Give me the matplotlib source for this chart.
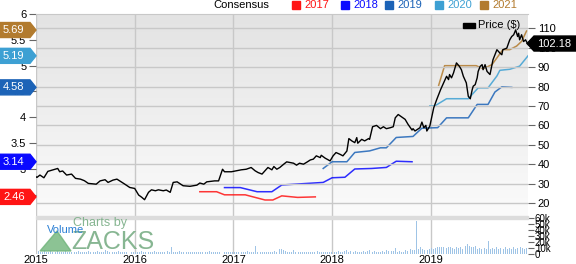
import numpy as np
import matplotlib
matplotlib.use("Agg")
import matplotlib.pyplot as plt
from matplotlib.patches import Polygon, Rectangle

plt.rcParams['font.family'] = ['Liberation Sans', 'DejaVu Sans']

# price ($), time as fractional year
price_t = [2015.00, 2015.01, 2015.04, 2015.08, 2015.12, 2015.16, 2015.22, 2015.24, 2015.27, 2015.31,
           2015.36, 2015.40, 2015.45, 2015.49, 2015.53, 2015.61, 2015.65, 2015.70, 2015.73, 2015.78,
           2015.82, 2015.86, 2015.90, 2015.95, 2016.00, 2016.04, 2016.07, 2016.10, 2016.14, 2016.17,
           2016.21, 2016.24, 2016.29, 2016.32, 2016.36, 2016.39, 2016.43, 2016.49, 2016.56, 2016.63,
           2016.66, 2016.70, 2016.73, 2016.81, 2016.85, 2016.89, 2016.91, 2016.98, 2017.08, 2017.13,
           2017.18, 2017.22, 2017.25, 2017.29, 2017.32, 2017.35, 2017.39, 2017.41, 2017.44, 2017.47,
           2017.51, 2017.54, 2017.61, 2017.64, 2017.67, 2017.71, 2017.74, 2017.78, 2017.81, 2017.84,
           2017.88, 2017.89, 2017.93, 2017.98, 2018.01, 2018.04, 2018.08, 2018.11, 2018.15, 2018.17,
           2018.20, 2018.23, 2018.25, 2018.26, 2018.30, 2018.33, 2018.37, 2018.38, 2018.41, 2018.45,
           2018.49, 2018.52, 2018.55, 2018.59, 2018.62, 2018.64, 2018.67, 2018.70, 2018.74, 2018.77,
           2018.81, 2018.82, 2018.84, 2018.89, 2018.91, 2018.93, 2018.95, 2018.96, 2018.99, 2019.03,
           2019.06, 2019.10, 2019.13, 2019.16, 2019.18, 2019.19, 2019.21, 2019.23, 2019.26, 2019.29,
           2019.31, 2019.33, 2019.36, 2019.38, 2019.40, 2019.42, 2019.43, 2019.45, 2019.47, 2019.48,
           2019.50, 2019.52, 2019.53, 2019.55, 2019.57, 2019.60, 2019.62, 2019.63, 2019.67, 2019.70,
           2019.72, 2019.73, 2019.77, 2019.80, 2019.82, 2019.84, 2019.86, 2019.88, 2019.89, 2019.90,
           2019.92, 2019.94, 2019.96, 2019.98]
price_v = [33.5, 33.2, 34.4, 33.0, 36.3, 36.9, 37.8, 36.1, 36.5, 34.4,
           34.9, 32.7, 32.3, 31.5, 30.1, 29.7, 31.4, 32.0, 30.6, 31.8,
           32.3, 31.0, 29.7, 28.0, 27.5, 24.1, 23.0, 21.7, 25.5, 26.8,
           26.3, 26.8, 26.3, 26.7, 25.5, 30.6, 30.9, 28.9, 28.6, 29.2,
           30.3, 29.7, 30.9, 31.4, 31.4, 37.4, 36.1, 36.1, 37.1, 37.4,
           38.3, 36.6, 35.7, 34.9, 36.6, 38.3, 37.1, 38.8, 37.4, 38.3,
           40.0, 41.2, 40.5, 39.5, 40.5, 40.0, 40.9, 42.2, 42.6, 44.3,
           43.4, 44.6, 43.1, 41.7, 44.3, 46.0, 45.1, 44.3, 46.8, 53.2,
           52.0, 51.1, 53.7, 50.8, 52.8, 52.0, 53.2, 52.8, 59.3, 60.0,
           58.3, 59.3, 58.3, 58.8, 59.3, 63.9, 65.6, 64.5, 63.1, 60.5,
           57.6, 58.3, 57.1, 58.8, 61.7, 58.8, 60.0, 57.1, 59.6, 69.1,
           73.3, 78.5, 81.9, 85.3, 83.6, 86.2, 84.5, 87.0, 92.2, 90.4,
           88.7, 85.3, 81.9, 75.0, 73.7, 78.5, 80.2, 81.0, 84.5, 87.8,
           90.4, 91.3, 88.7, 91.3, 87.8, 86.2, 91.3, 93.8, 99.0, 97.3,
           96.4, 99.0, 99.8, 104.1, 105.8, 106.7, 109.2, 105.8, 107.5, 104.1,
           106.7, 103.2, 104.1, 102.18]

# consensus EPS lines
eps17_t = [2016.66, 2016.83, 2016.91, 2017.12, 2017.32, 2017.40, 2017.49, 2017.65, 2017.83]
eps17_v = [2.56, 2.56, 2.50, 2.50, 2.40, 2.40, 2.48, 2.45, 2.46]
eps18_t = [2016.91, 2017.07, 2017.24, 2017.39, 2017.49, 2017.91, 2018.00, 2018.13, 2018.23,
           2018.40, 2018.55, 2018.65, 2018.81]
eps18_v = [2.64, 2.64, 2.56, 2.56, 2.69, 2.74, 2.83, 2.84, 3.00, 3.01, 3.03, 3.15, 3.14]
eps19_t = [2017.91, 2018.00, 2018.15, 2018.23, 2018.38, 2018.49, 2018.55, 2018.65, 2018.82,
           2018.91, 2019.07, 2019.16, 2019.38, 2019.47, 2019.58, 2019.65, 2019.72, 2019.82]
eps19_v = [3.01, 3.14, 3.14, 3.32, 3.35, 3.41, 3.41, 3.61, 3.63, 3.79, 3.80, 3.99, 3.99,
           4.25, 4.25, 4.49, 4.59, 4.58]
eps20_t = [2018.99, 2019.04, 2019.16, 2019.38, 2019.48, 2019.58, 2019.67, 2019.70, 2019.80,
           2019.90, 2019.985]
eps20_v = [4.22, 4.22, 4.36, 4.36, 4.57, 4.57, 4.80, 4.91, 4.93, 4.99, 5.19]
eps21_t = [2019.08, 2019.14, 2019.46, 2019.53, 2019.62, 2019.67, 2019.73, 2019.80, 2019.87,
           2019.92, 2019.97]
eps21_v = [4.62, 5.00, 5.00, 4.94, 5.02, 5.15, 5.31, 5.31, 5.38, 5.47, 5.67]

eps_labels = ['5.69', '5.19', '4.58', '3.14', '2.46']
eps_label_vals = [5.69, 5.19, 4.58, 3.14, 2.46]
eps_colors = ['#b27b2e', '#3da0d3', '#1c63b7', '#0a0aff', '#ff1414']
years = ['2017', '2018', '2019', '2020', '2021']
year_colors = ['#ff1414', '#0a0aff', '#1c63b7', '#3da0d3', '#b27b2e']

# weekly volume (thousands)
vol_2015 = [4, 5, 3, 4, 6, 4, 3, 5, 4, 3, 4, 5, 3, 4, 4, 5, 3, 3, 4, 6, 4, 3, 5, 4, 4, 3,
            4, 5, 3, 4, 3, 4, 5, 4, 3, 4, 6, 5, 4, 3, 4, 4, 3, 5, 4, 3, 4, 3, 5, 4, 3, 4]
vol_2016 = [3, 4, 3, 5, 4, 3, 4, 3, 4, 3, 5, 4, 3, 3, 4, 3, 4, 5, 4, 11, 4, 3, 4, 5, 4, 3,
            4, 4, 3, 3, 4, 3, 4, 3, 3, 4, 3, 4, 3, 5, 3, 4, 3, 3, 4, 3, 4, 3, 4, 3, 3, 4]
vol_2017 = [3, 4, 3, 4, 3, 3, 4, 5, 3, 4, 3, 14, 4, 3, 4, 3, 4, 3, 4, 3, 4, 5, 4, 7, 8, 9,
            7, 5, 4, 3, 4, 6, 3, 4, 4, 3, 4, 3, 4, 3, 3, 4, 3, 4, 5, 3, 4, 3, 4, 3, 4, 3]
vol_2018 = [4, 3, 4, 5, 3, 4, 5, 7, 4, 5, 6, 4, 5, 4, 3, 4, 5, 4, 5, 6, 22, 4, 5, 4, 4, 3,
            5, 4, 6, 5, 4, 5, 5, 10, 4, 5, 3, 4, 6, 5, 4, 8, 7, 6, 55, 8, 12, 9, 7, 8, 6, 9]
vol_2019 = [10, 9, 10, 11, 12, 11, 12, 11, 10, 12, 11, 10, 9, 11, 10, 12, 9, 10, 13, 16, 14, 11,
            12, 13, 9, 10, 8, 11, 10, 9, 22, 9, 10, 8, 11, 9, 10, 11, 8, 12, 9, 10, 9, 11, 8, 10,
            9, 11, 10, 9, 10, 8]
volume = vol_2015 + vol_2016 + vol_2017 + vol_2018 + vol_2019
vol_t = [2015 + (i + 0.5) / 52 for i in range(len(volume))]

W, H = 576, 264
x0, x1 = 2015.0, 2019.985


def fx(px):
    return px / W


def fy(py):
    return 1 - py / H


fig = plt.figure(figsize=(W / 100, H / 100), dpi=100)
rect = [fx(36), fy(216), fx(528) - fx(36), fy(14) - fy(216)]

# gradient background
bg = fig.add_axes(rect)
grad = np.linspace(0, 1, 100).reshape(-1, 1)
bg.imshow(grad, extent=[0, 1, 0, 1], aspect='auto', cmap=matplotlib.colors.LinearSegmentedColormap.from_list(
    'g', ['#e3e3e3', '#fbfbfb']), origin='upper')
bg.axis('off')

ax = fig.add_axes(rect)
ax.set_facecolor('none')
ax.set_xlim(x0, x1)
ax.set_ylim(2.09, 6.0)
ax.set_yticks([2.5, 3, 3.5, 4, 4.5, 5, 5.5, 6])
ax.set_yticklabels(['2.5', '3', '3.5', '4', '4.5', '5', '5.5', '6'])
ax.tick_params(axis='y', labelsize=8, length=5, color='#666666', pad=2)
ax.set_xticks([2015, 2016, 2017, 2018, 2019])
ax.tick_params(axis='x', length=0, labelbottom=False)
ax.grid(axis='x', color='#c8c8c8', lw=1)
for s in ['left', 'right', 'bottom']:
    ax.spines[s].set_visible(False)
ax.spines['top'].set_color('#c8c8c8')

for tt, vv, c in zip([eps17_t, eps18_t, eps19_t, eps20_t, eps21_t],
                     [eps17_v, eps18_v, eps19_v, eps20_v, eps21_v], year_colors):
    ax.plot(tt, vv, color=c, lw=1.1, alpha=0.85)

axp = ax.twinx()
axp.set_ylim(13.3, 117.4)
axp.set_xlim(x0, x1)
axp.set_yticks(range(20, 111, 10))
axp.tick_params(axis='y', labelsize=8, length=5, color='#666666', pad=2)
axp.grid(axis='y', color='#c8c8c8', lw=1)
axp.set_axisbelow(True)
for s in axp.spines.values():
    s.set_visible(False)
axp.plot(price_t, price_v, color='black', lw=1.0, zorder=5)

# volume panel
axv = fig.add_axes([fx(36), fy(254), fx(528) - fx(36), fy(218) - fy(254)])
axv.bar(vol_t, volume, width=0.009, color='#9fc4e6')
axv.set_xlim(x0, x1)
axv.set_ylim(0, 60)
axv.yaxis.tick_right()
axv.set_yticks(range(0, 61, 10))
axv.set_yticklabels(['0', '10k', '20k', '30k', '40k', '50k', '60k'])
axv.tick_params(axis='y', labelsize=7, length=4, color='#666666', pad=1)
axv.set_xticks([2015, 2016, 2017, 2018, 2019])
axv.set_xticklabels(['2015', '2016', '2017', '2018', '2019'])
axv.tick_params(axis='x', labelsize=8, length=0, pad=1)
axv.grid(axis='x', color='#c8c8c8', lw=1)
axv.set_axisbelow(True)
for s in axv.spines.values():
    s.set_visible(False)

# separator band
fig.patches.append(Rectangle((fx(36), fy(219)), fx(528) - fx(36), fy(216) - fy(219),
                             transform=fig.transFigure, color='#dcdcdc', zorder=2))

# left consensus arrow labels
for lab, v, c in zip(eps_labels, eps_label_vals, eps_colors):
    yc = ax.transData.transform((x0, v))[1]
    yc = H - yc
    hh = 7.5
    pts = [(0, yc - hh), (30, yc - hh), (36, yc), (30, yc + hh), (0, yc + hh)]
    fig.patches.append(Polygon([(fx(a), fy(b)) for a, b in pts], closed=True,
                               transform=fig.transFigure, color=c, zorder=3))
    fig.text(fx(3), fy(yc), lab, color='white', fontsize=8, va='center', ha='left', zorder=4)

# last price label
last = price_v[-1]
yc = H - axp.transData.transform((x0, last))[1]
hh = 7.5
pts = [(527, yc), (534, yc - hh), (576, yc - hh), (576, yc + hh), (534, yc + hh)]
fig.patches.append(Polygon([(fx(a), fy(b)) for a, b in pts], closed=True,
                           transform=fig.transFigure, color='black', zorder=3))
fig.text(fx(537), fy(yc), '%.2f' % last, color='white', fontsize=8, va='center', ha='left', zorder=4)

# price legend
fig.patches.append(Rectangle((fx(463), fy(27.5)), fx(12), 5 / H, transform=fig.transFigure,
                             color='black', zorder=3))
fig.text(fx(478), fy(25), 'Price ($)', fontsize=8, va='center', ha='left')

# top legend
fig.text(fx(213), fy(5), 'Consensus', fontsize=8, va='center', ha='left')
leg_x = [292, 341, 385, 435, 480]
for xx, yr, c in zip(leg_x, years, year_colors):
    fig.patches.append(Rectangle((fx(xx), fy(9)), fx(8), 8 / H, transform=fig.transFigure,
                                 color=c, zorder=3))
    fig.text(fx(xx + 12), fy(5), yr, color=c, fontsize=8, va='center', ha='left')

# watermark
fig.patches.append(Polygon([(fx(40), fy(251)), (fx(57), fy(231)), (fx(71), fy(251))],
                           closed=True, transform=fig.transFigure, color='#6fb47a', alpha=0.8,
                           zorder=3))
fig.text(fx(73), fy(223), 'Charts by', color='#7aae86', fontsize=9, va='center', ha='left',
         alpha=0.9)
fig.text(fx(71), fy(242), 'ZACKS', color='#7aae86', fontsize=18, va='center', ha='left',
         alpha=0.9)
fig.text(fx(47), fy(230), 'Volume', color='#2a7fd4', fontsize=8, va='center', ha='left')

fig.savefig('out.png', dpi=100)
